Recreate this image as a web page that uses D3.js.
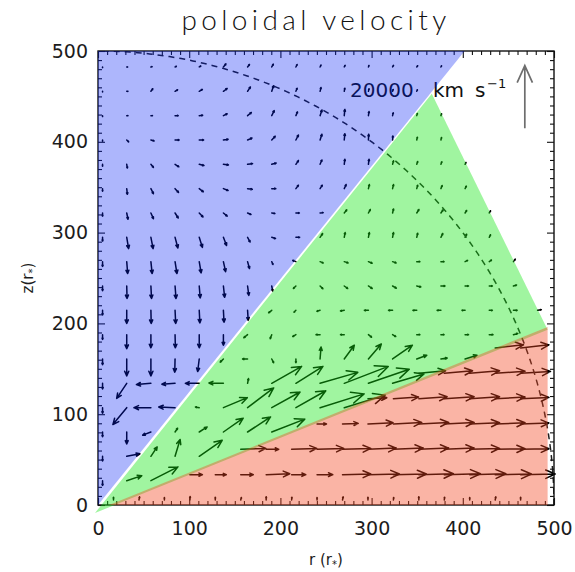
<!DOCTYPE html>
<html>
<head>
<meta charset="utf-8">
<script src="https://cdn.jsdelivr.net/npm/d3@7"></script>
<style>
  body { margin: 0; background: #fff; }
  svg { display: block; }
</style>
</head>
<body>
<svg id="chart" width="575" height="572"></svg>
<script>
// ---- axes -------------------------------------------------------------
const rTicks = [0, 100, 200, 300, 400, 500];
const zTicks = [0, 100, 200, 300, 400, 500];
const minorStep = 10;

// ---- wind / funnel grid (velocities in 1000 km/s, [v_r, v_z]) ---------
const rGridBG = [5, 31.5, 58, 84.5, 111, 137.5, 164, 190.5, 217, 243.5, 270, 296.5, 323, 349.5, 376, 402.5, 429, 455.5, 482];
const zGridBG = [0, 26.8, 53.6, 80.4, 107.2, 134, 160.8, 187.6, 214.4, 241.2, 268, 294.8, 321.6, 348.4, 375.2, 402, 428.8, 455.6, 482.4];
const vecBG = [
  /* z=0   */ [null,null,null,null,null,null,null,null,null,null,null,null,null,null,null,null,null,null,null],
  /* z=27  */ [[0,-1.5],[4.8,1.6],[8.6,4.4],null,null,null,null,null,null,null,null,null,null,null,null,null,null,null,null],
  /* z=54  */ [[0,-1.5],[4.2,0.8],[2.0,3.0],[1.6,5.4],[7.3,5.1],null,null,null,null,null,null,null,null,null,null,null,null,null,null],
  /* z=80  */ [[0,-1.5],[0,-3.8],[-2.6,-1.0],[0.8,1.2],[2.5,1.6],[6.3,4.4],[7.3,4.8],[10.5,4.1],null,null,null,null,null,null,null,null,null,null,null],
  /* z=107 */ [[0,-1.8],[-4.4,-5.4],[-5.4,0],[-5.2,0.2],[-1.2,0.2],[7.6,3.2],[8.3,6.3],[9.0,5.0],[9.5,5.4],[14,4.4],[13,4],null,null,null,null,null,null,null,null],
  /* z=134 */ [[0,-1.8],[-3.2,-4.8],[-4.6,-0.4],[-4.2,-0.3],[-4.4,0],[-4.6,0.1],[0.3,1.5],[9.5,5.4],[8.6,5.4],[12,3.5],[14,5.4],[13,4.5],[10,3],null,null,null,null,null,null],
  /* z=161 */ [[0,-1.8],[0,-5.4],[0,-5.4],[-0.1,-4.2],[-0.5,-4.0],[-1.0,-1.0],[-1.6,0],[0.6,-1.2],[0,-1.2],[0.3,3.8],[3.2,4.4],[4.1,4.8],[6.3,4.4],[3.2,1.2],[2.0,0.3],[3.8,1.2],null,null,null],
  /* z=188 */ [[0,-1.5],[0,-4.5],[0,-4.2],[0.1,-4.2],[0,-4.2],[0,-3.4],[-1.2,-1.0],[-0.5,-1.3],[-1.0,-0.6],[-1.3,0],[-1.2,0],[1.0,-0.8],[1.0,-0.6],[1.0,0],[1.0,0],[1.1,0],[1.2,0],[1.4,0.4],null],
  /* z=214 */ [[0,-1.5],[0,-4.2],[0.1,-4.2],[0.2,-4.2],[0.2,-4.0],[0.2,-3.8],[0.2,-3.2],[-1.0,-0.8],[-0.6,-0.6],[-1.0,-0.3],[-1.2,-0.2],[-1.3,0],[-1.3,0],[-1.2,0],[-1.2,0],[-1.0,0],[1.0,0],[1.2,0],[1.2,0.2]],
  /* z=241 */ [[0,-1.5],[0.1,-4.0],[0.2,-4.0],[0.3,-4.0],[0.3,-3.8],[0.4,-3.6],[0.4,-3.0],[0.3,-1.6],[-0.8,-0.8],[0.9,-0.9],[1.1,-0.8],[1.2,-0.8],[1.2,-0.7],[1.3,-0.3],[1.3,0],[1.1,0],[1.0,0],[1.0,0.3],null],
  /* z=268 */ [[0,-1.5],[0.3,-3.8],[0.4,-3.8],[0.6,-3.8],[0.6,-3.6],[0.7,-3.2],[0.6,-2.2],[0.4,-0.9],[-1.0,0.4],[1.0,-0.4],[1.2,-0.4],[1.2,-0.5],[1.1,-0.4],[1.0,0],[1.0,0],[0.8,0.4],[0.7,0.5],[0.6,0.8],null],
  /* z=295 */ [[0,-1.2],[0.6,-3.6],[0.7,-3.6],[0.9,-3.4],[1.0,-3.2],[1.0,-2.6],[0.8,-1.5],[1.2,-0.4],[1.2,0],[0.8,1.2],[0.3,1.5],[0.3,1.5],[0.3,1.5],[0.3,1.3],[0.6,1.2],[0.5,1.0],[0.4,0.8],null,null],
  /* z=322 */ [[0,-1.0],[0.4,-2.0],[0.8,-1.8],[1.0,-1.6],[1.2,-1.3],[1.2,-1.0],[1.1,-0.5],[1.0,-0.2],[1.1,0],[1.0,0.1],[0.8,1.0],[0.6,1.1],[0.3,1.3],[0.7,1.1],[0.7,1.0],[0.5,0.8],[0.4,0.7],null,null],
  /* z=348 */ [[0,-0.8],[0.2,-1.8],[0.8,-1.6],[1.1,-1.2],[1.3,-1.0],[1.5,-0.6],[1.5,-0.2],[1.3,0],[0.8,1.1],[0.7,1.1],[0.6,1.3],[0.3,1.3],[0.3,1.3],[0.3,1.1],[0.4,1.0],[0.4,0.8],null,null,null],
  /* z=375 */ [[0,-0.6],[0.2,-1.2],[0.8,-1.0],[1.2,-0.8],[1.5,-0.4],[1.6,-0.2],[1.6,0.2],[1.4,0.4],[0.8,1.2],[0.6,1.4],[0.2,1.6],[0.2,1.6],[0.3,1.1],[0.3,0.9],[0.3,0.8],[0.3,0.6],null,null,null],
  /* z=402 */ [[0,-0.4],[0.6,-0.6],[1.0,-0.3],[1.3,0],[1.4,0],[1.5,0.2],[1.4,0.6],[1.1,1.2],[0.8,1.6],[0.6,1.8],[0.2,2.0],[0.1,1.8],[0.1,1.3],[0.2,0.9],[0.2,0.8],null,null,null,null],
  /* z=429 */ [[0,-0.3],[0.4,0],[0.5,0],[1.0,0],[1.1,0.1],[1.2,0.6],[1.2,1.0],[0.8,1.6],[0.5,1.2],[0.6,1.8],[0.2,2.0],[0.2,1.3],[0.2,0.9],[0.2,0.7],[0.2,0.6],null,null,null,null],
  /* z=456 */ [[0,-0.2],[0.4,0],[0.6,0.8],[0.8,0.5],[1.0,0.6],[1.2,0.9],[0.9,1.4],[0.6,1.8],[0.4,1.0],[0.3,1.2],[0.2,1.0],[0.2,0.8],[0.2,0.6],[0.2,0.5],null,null,null,null,null],
  /* z=482 */ [[0,-0.2],[0.3,0],[0.4,0.1],[0.4,0.2],[0.5,0.3],[0.8,1.0],[0.6,0.8],[0.5,0.9],[0.4,0.8],[0.3,0.6],[0.3,0.5],[0.2,0.5],[0.3,0.5],[0.3,0.4],[0.2,0.4],null,null,null,null]
];

// ---- disc grid (velocities in 1000 km/s, [v_r, v_z]) ------------------
const rGridDisc = [17, 44.9, 72.8, 100.7, 128.6, 156.5, 184.4, 212.3, 240.2, 268.1, 296, 323.9, 351.8, 379.7, 407.6, 435.5, 463.4];
const zGridDisc = [5.5, 33.4, 61.3, 89.2, 117.1, 145, 172.9];
const vecDisc = [
  /* z=6   */ [[0,0.9],[0.2,1.0],[0,0.8],[0.1,1.1],[0,0.9],[0.2,0.8],[0,1.0],[0.1,0.9],[0,0.8],[0.2,1.0],[0,0.9],[0.1,0.8],[0,1.0],[0.1,0.9],[0,0.8],[0.2,1.0],[0,0.9]],
  /* z=33  */ [null,null,null,[4.0,0],[3.5,0],[4.0,0],[7.5,0.3],[4.5,0],[5.0,0],[9,0.2],[10,0.2],[10.5,0.2],[11,0.3],[11.5,0.3],[11.5,0.3],[11.5,0.2],[11,0.2]],
  /* z=61  */ [null,null,null,null,null,[8,0.3],[4,0],[8,0.3],[8.5,0.3],[9,0.3],[9,0.4],[9.5,0.4],[9.5,0.4],[9.5,0.4],[9.5,0.3],[9.5,0.2],[9,0.2]],
  /* z=89  */ [null,null,null,null,null,null,null,null,[3,0],[5,0.2],[8,0.4],[9,0.5],[9.5,0.5],[9.5,0.5],[9.5,0.4],[9.5,0.4],[9,0.3]],
  /* z=117 */ [null,null,null,null,null,null,null,null,null,null,[6,0.3],[8,0.5],[9,0.6],[9.5,0.6],[9.5,0.6],[9.5,0.5],[9,0.4]],
  /* z=145 */ [null,null,null,null,null,null,null,null,null,null,null,null,[8.5,0.8],[9,0.8],[9.5,0.8],[9.5,0.7],[9.5,0.6]],
  /* z=173 */ [null,null,null,null,null,null,null,null,null,null,null,null,null,null,null,[9,1.0],[9,1.0]]
];

// ---- reference arrow and shaded zones (r, z in r_* units) -------------
const refSpeed = 20;                 // 1000 km/s
const refLength = 69;                // drawn length of refSpeed, r_* units
const refAnchor = [468, 415];
const funnelZone = [[0, 0], [402, 500], [0, 500]];
const windZone   = [[-3.3, -8.8], [366, 453], [493, 193]];
const discZone   = [[0, -5], [493, 196], [493, 0], [0, 0]];
const sonicRadius = 500;

// ---- layout ------------------------------------------------------------
const svg = d3.select("#chart");
const x = d3.scaleLinear().domain([0, 500]).range([98, 554]);
const y = d3.scaleLinear().domain([0, 500]).range([505, 51]);

const lengthPerSpeed = refLength / refSpeed;

function arrowPath(r, z, u, w) {
  const x0 = x(r), y0 = y(z);
  const x1 = x(r + u * lengthPerSpeed), y1 = y(z + w * lengthPerSpeed);
  const dx = x1 - x0, dy = y1 - y0, L = Math.hypot(dx, dy);
  if (L < 0.05) return "";
  const a = Math.atan2(dy, dx), h = 0.3 * L, t = 24 * Math.PI / 180;
  const p = v => v.toFixed(2);
  return `M${p(x0)},${p(y0)}L${p(x1)},${p(y1)}` +
         `M${p(x1 - h * Math.cos(a - t))},${p(y1 - h * Math.sin(a - t))}` +
         `L${p(x1)},${p(y1)}` +
         `L${p(x1 - h * Math.cos(a + t))},${p(y1 - h * Math.sin(a + t))}`;
}

function flatten(rs, zs, rows) {
  const out = [];
  rows.forEach((row, j) => row.forEach((v, i) => {
    if (v) out.push({ r: rs[i], z: zs[j], u: v[0], w: v[1] });
  }));
  return out;
}

const plot = svg.append("g");
plot.append("defs").append("clipPath").attr("id", "plotClip")
  .append("rect").attr("x", x(0)).attr("y", y(500))
  .attr("width", x(500) - x(0)).attr("height", y(0) - y(500));

// vector field
const field = plot.append("g")
  .attr("fill", "none").attr("stroke", "#000")
  .attr("stroke-width", 1.5).attr("stroke-linecap", "round").attr("stroke-linejoin", "round");
field.selectAll("path.bg")
  .data(flatten(rGridBG, zGridBG, vecBG))
  .join("path").attr("class", "bg")
  .attr("d", d => arrowPath(d.r, d.z, d.u, d.w));
field.selectAll("path.disc")
  .data(flatten(rGridDisc, zGridDisc, vecDisc))
  .join("path").attr("class", "disc")
  .attr("d", d => arrowPath(d.r, d.z, d.u, d.w));

// dashed circle at r = 500 r_*
const arcPts = d3.range(0, 90.01, 0.5).map(a => [sonicRadius * Math.cos(a * Math.PI / 180), sonicRadius * Math.sin(a * Math.PI / 180)]);
plot.append("path")
  .attr("clip-path", "url(#plotClip)")
  .attr("d", d3.line().x(d => x(d[0])).y(d => y(d[1]))(arcPts))
  .attr("fill", "none").attr("stroke", "#1e1e1e").attr("stroke-width", 1.5)
  .attr("stroke-dasharray", "6,5");

// reference arrow + label
plot.append("path")
  .attr("d", arrowPath(refAnchor[0], refAnchor[1], 0, refSpeed))
  .attr("fill", "none").attr("stroke", "#6e6e6e").attr("stroke-width", 1.7);
const lab = plot.append("text")
  .attr("font-family", "DejaVu Sans").attr("font-size", 20).attr("fill", "#111");
lab.append("tspan").attr("x", 350).attr("y", 97).text("20000");
lab.append("tspan").attr("x", 433).attr("y", 97).text("km");
lab.append("tspan").attr("x", 475).attr("y", 97).text("s");
lab.append("tspan").attr("x", 487).attr("y", 88).attr("font-size", 13).text("\u22121");

// frame and ticks
const axG = plot.append("g").attr("stroke", "#111");
axG.append("rect")
  .attr("x", x(0)).attr("y", y(500))
  .attr("width", x(500) - x(0)).attr("height", y(0) - y(500))
  .attr("fill", "none").attr("stroke-width", 1.4);
const minorVals = d3.range(0, 501, minorStep).filter(v => v % 100 !== 0);
function ticks(sel, axis, vals, len, labels) {
  const a = axis.tickValues(vals).tickSize(-len).tickPadding(labels ? 17 : 0)
    .tickFormat(labels ? d3.format("d") : "");
  sel.call(a);
  sel.select(".domain").remove();
  sel.selectAll(".tick line").attr("stroke", "#111").attr("stroke-width", 1.1);
}
const bottomMaj = plot.append("g").attr("transform", `translate(0,${y(0)})`);
ticks(bottomMaj, d3.axisBottom(x), rTicks, 7, true);
ticks(plot.append("g").attr("transform", `translate(0,${y(0)})`), d3.axisBottom(x), minorVals, 4, false);
ticks(plot.append("g").attr("transform", `translate(0,${y(500)})`), d3.axisTop(x), rTicks, 7, false);
ticks(plot.append("g").attr("transform", `translate(0,${y(500)})`), d3.axisTop(x), minorVals, 4, false);
const leftMaj = plot.append("g").attr("transform", `translate(${x(0)},0)`);
ticks(leftMaj, d3.axisLeft(y), zTicks, 7, true);
ticks(plot.append("g").attr("transform", `translate(${x(0)},0)`), d3.axisLeft(y), minorVals, 4, false);
ticks(plot.append("g").attr("transform", `translate(${x(500)},0)`), d3.axisRight(y), zTicks, 7, false);
ticks(plot.append("g").attr("transform", `translate(${x(500)},0)`), d3.axisRight(y), minorVals, 4, false);
leftMaj.call(g => g.selectAll(".tick text").attr("x", -10));

plot.selectAll(".tick text")
  .attr("font-family", "DejaVu Sans").attr("font-size", 19).attr("fill", "#1c1c1c");

// shaded zones (translucent, drawn over the field)
const zonePath = d3.line().x(d => x(d[0])).y(d => y(d[1]));
plot.append("path").attr("d", zonePath(funnelZone) + "Z")
  .attr("fill", "rgb(0,28,245)").attr("fill-opacity", 0.32);
plot.append("path").attr("d", zonePath(windZone) + "Z")
  .attr("fill", "rgb(17,230,17)").attr("fill-opacity", 0.4);
plot.append("path").attr("d", zonePath(discZone) + "Z")
  .attr("clip-path", "url(#plotClip)")
  .attr("fill", "rgb(242,67,30)").attr("fill-opacity", 0.4);

// titles
svg.append("text")
  .attr("x", 316).attr("y", 30).attr("text-anchor", "middle")
  .attr("font-family", "Lato, 'Open Sans', sans-serif").attr("font-weight", 300)
  .attr("font-size", 28).attr("letter-spacing", 4.4).attr("fill", "#111")
  .text("poloidal velocity");

const xt = svg.append("text")
  .attr("x", x(250)).attr("y", 565).attr("text-anchor", "middle")
  .attr("font-family", "DejaVu Sans").attr("font-size", 15).attr("fill", "#1c1c1c");
xt.append("tspan").text("r (r");
xt.append("tspan").attr("font-size", 10).attr("dy", 3).text("*");
xt.append("tspan").attr("dy", -3).text(")");

const yt = svg.append("text")
  .attr("transform", `translate(33,${y(250)}) rotate(-90)`).attr("text-anchor", "middle")
  .attr("font-family", "DejaVu Sans").attr("font-size", 15).attr("fill", "#1c1c1c");
yt.append("tspan").text("z(r");
yt.append("tspan").attr("font-size", 10).attr("dy", 3).text("*");
yt.append("tspan").attr("dy", -3).text(")");
</script>
</body>
</html>
